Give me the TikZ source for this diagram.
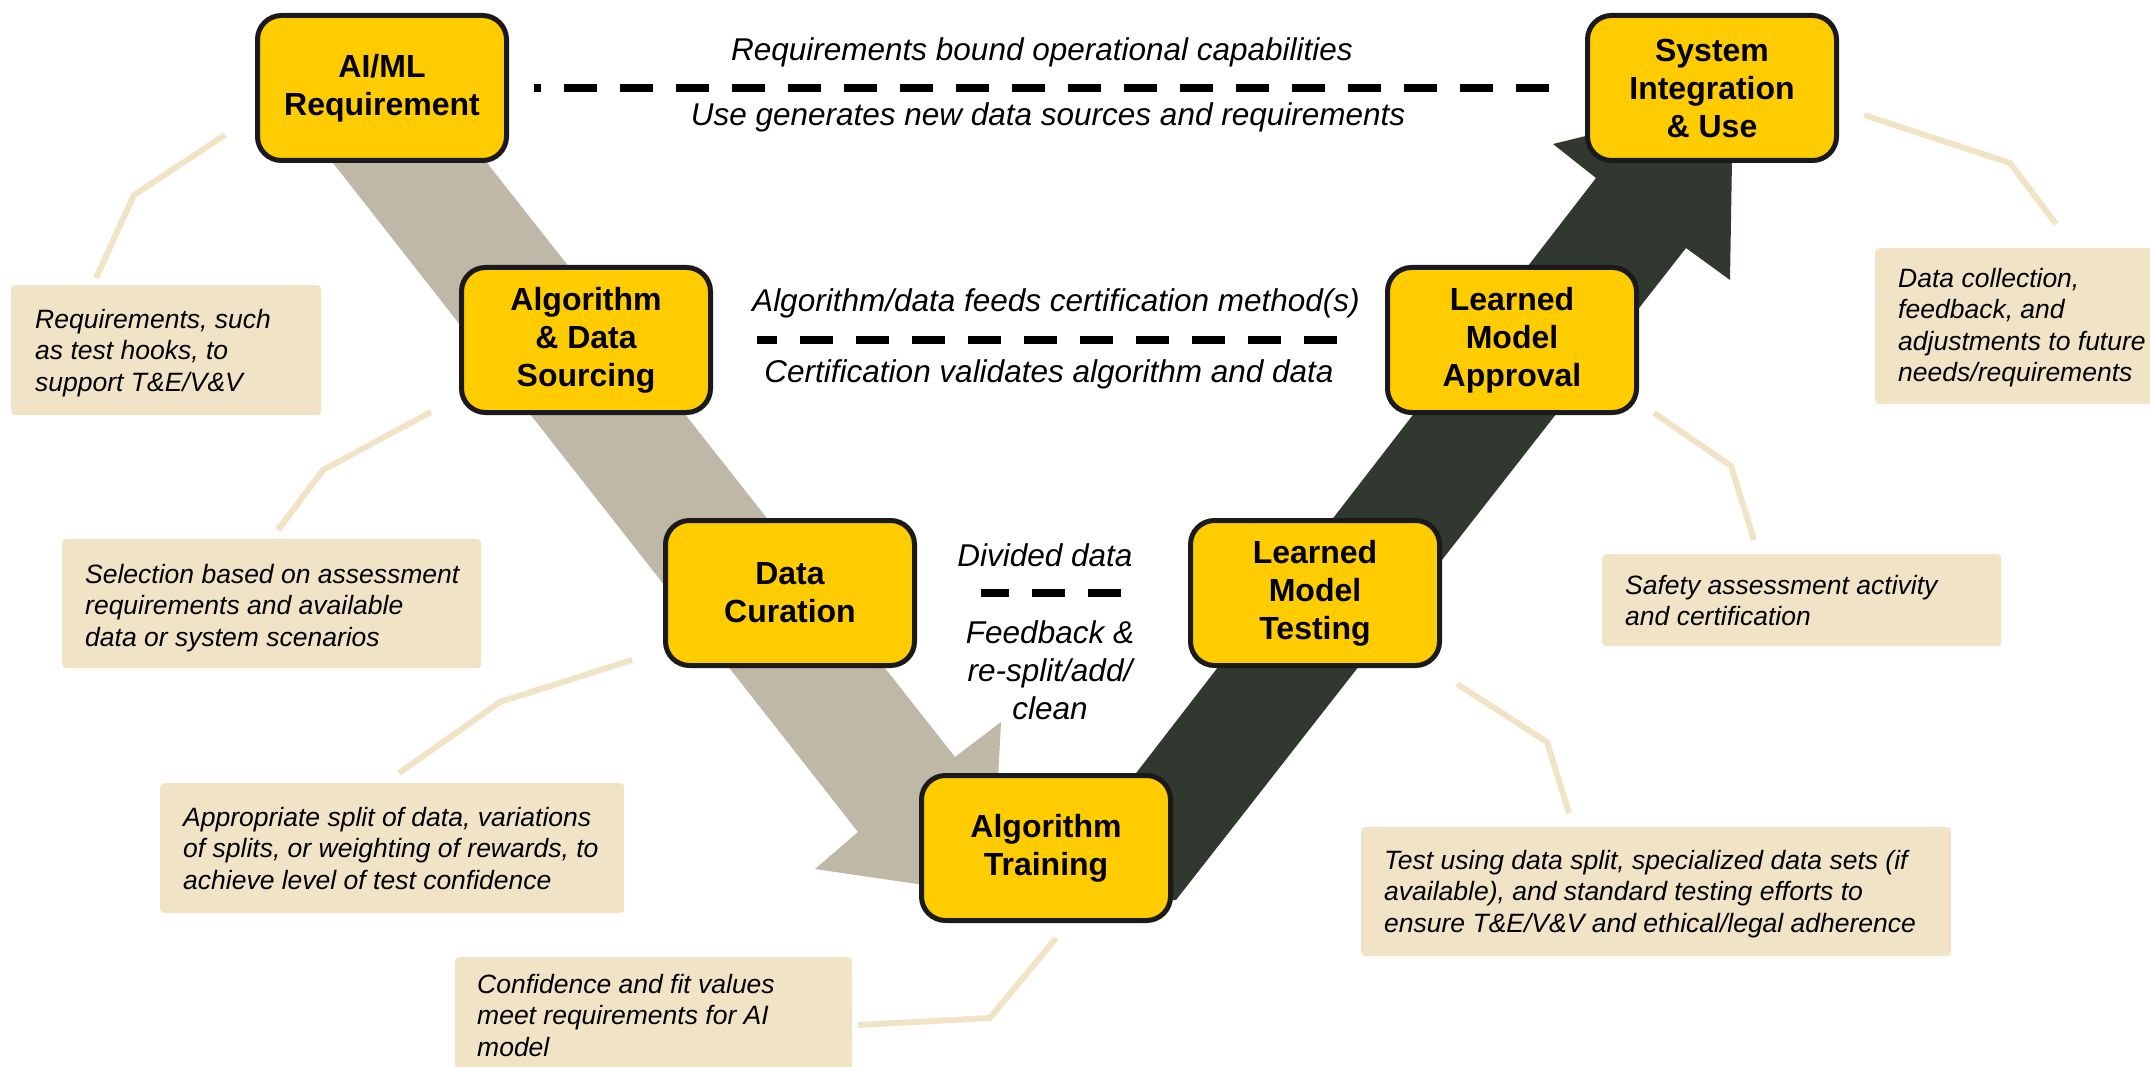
\documentclass[tikz,border=0pt]{standalone}
\usepackage{fontspec}
\setmainfont{Liberation Sans}
\definecolor{stageyellow}{HTML}{FFCC00}
\definecolor{stageline}{HTML}{1A1A1A}
\definecolor{notebeige}{HTML}{F1E3C6}
\definecolor{downband}{HTML}{BFB8A7}
\definecolor{upband}{HTML}{313830}
\tikzset{
  stage/.style={draw=stageline, line width=5pt, fill=stageyellow, rounded corners=24pt,
    minimum width=249pt, minimum height=145pt, inner sep=0pt, align=center,
    font=\bfseries\fontsize{32}{38}\selectfont},
  note/.style={fill=notebeige, rounded corners=4pt, inner sep=0pt, anchor=north west},
  notetext/.style={anchor=north west, inner sep=0pt, align=left,
    font=\itshape\fontsize{26.5}{31.5}\selectfont},
  flowlabel/.style={inner sep=0pt, align=center, font=\itshape\fontsize{31.5}{38}\selectfont},
  leader/.style={draw=notebeige, line width=6pt},
  linkdash/.style={draw=black, line width=8pt, dash pattern=on 33pt off 23pt},
}
\begin{document}
\begin{tikzpicture}[x=1pt,y=-1pt]
\useasboundingbox (0,0) rectangle (2150,1067);
\fill[white] (0,0) rectangle (2150,1067);

% descending band (left leg of the V)
\fill[downband] (315,140) -- (469,140) -- (955,757) -- (1001,722) -- (992,895)
  -- (815,869) -- (858,832) -- cycle;
% ascending band (right leg of the V)
\fill[upband] (1038,900) -- (1176,900) -- (1686,248) -- (1730,280) -- (1733,100)
  -- (1553,144) -- (1596,178) -- cycle;

% lifecycle stages
\node[stage] (aiml)  at (382,88)   {AI/ML\\Requirement};
\node[stage] (algo)  at (586,340)  {Algorithm\\\& Data\\Sourcing};
\node[stage] (cur)   at (790,593)  {Data\\Curation};
\node[stage] (train) at (1046,848) {Algorithm\\Training};
\node[stage] (test)  at (1315,593) {Learned\\Model\\Testing};
\node[stage] (appr)  at (1512,340) {Learned\\Model\\Approval};
\node[stage] (sys)   at (1712,88)  {System\\Integration\\\& Use};

% dashed links across the V
\draw[linkdash] ([xshift=-36pt]sys.west) -- ([xshift=24.5pt]aiml.east);
\draw[linkdash] ([xshift=-48.5pt]appr.west) -- ([xshift=43.5pt]algo.east);
\draw[linkdash] ([xshift=-67.5pt]test.west) -- ([xshift=63.5pt]cur.east);

% labels on the links
\node[flowlabel, anchor=base] (l1) at (1042,61)  {Requirements bound operational capabilities};
\node[flowlabel, anchor=base] (l2) at (1048,126) {Use generates new data sources and requirements};
\node[flowlabel, anchor=base] (l3) at (1056,312) {Algorithm/data feeds certification method(s)};
\node[flowlabel, anchor=base] (l4) at (1049,382) {Certification validates algorithm and data};
\node[flowlabel, anchor=base] (l5) at (1045,566) {Divided data};
\node[flowlabel] (l6) at (1050,670) {Feedback \&\\re-split/add/\\clean};

% notes
\node[note, minimum width=310pt, minimum height=130pt] (nA) at (11,285) {};
\node[note, minimum width=419pt, minimum height=129pt] (nB) at (62,539) {};
\node[note, minimum width=464pt, minimum height=130pt] (nC) at (160,783) {};
\node[note, minimum width=397pt, minimum height=120pt] (nD) at (455,957) {};
\node[note, minimum width=590pt, minimum height=129pt] (nE) at (1361,827) {};
\node[note, minimum width=399pt, minimum height=92pt]  (nF) at (1602,554) {};
\node[note, minimum width=285pt, minimum height=156pt] (nG) at (1875,248) {};

\node[notetext] (tA) at (35,309)   {Requirements, such\\as test hooks, to\\support T\&E/V\&V};
\node[notetext] (tB) at (85,564)   {Selection based on assessment\\requirements and available\\data or system scenarios};
\node[notetext] (tC) at (183,807)  {Appropriate split of data, variations\\of splits, or weighting of rewards, to\\achieve level of test confidence};
\node[notetext] (tD) at (477,974)  {Confidence and fit values\\meet requirements for AI\\model};
\node[notetext] (tE) at (1384,850) {Test using data split, specialized data sets (if\\available), and standard testing efforts to\\ensure T\&E/V\&V and ethical/legal adherence};
\node[notetext] (tF) at (1625,575) {Safety assessment activity\\and certification};
\node[notetext] (tG) at (1898,268) {Data collection,\\feedback, and\\adjustments to future\\needs/requirements};

% leader lines from stages to notes
\coordinate (a0) at (225,135);  \coordinate (a1) at (134,195);  \coordinate (a2) at (96,278);
\coordinate (b0) at (431,412);  \coordinate (b1) at (323,470);  \coordinate (b2) at (278,530);
\coordinate (c0) at (632,660);  \coordinate (c1) at (500,702);  \coordinate (c2) at (399,773);
\coordinate (d0) at (1056,938); \coordinate (d1) at (990,1018); \coordinate (d2) at (858,1025);
\coordinate (e0) at (1457,684); \coordinate (e1) at (1547,742); \coordinate (e2) at (1569,813);
\coordinate (f0) at (1654,413); \coordinate (f1) at (1731,466); \coordinate (f2) at (1754,540);
\coordinate (g0) at (1864,115); \coordinate (g1) at (2010,163); \coordinate (g2) at (2056,224);
\draw[leader] (a0) -- (a1) -- (a2);
\draw[leader] (b0) -- (b1) -- (b2);
\draw[leader] (c0) -- (c1) -- (c2);
\draw[leader] (d0) -- (d1) -- (d2);
\draw[leader] (e0) -- (e1) -- (e2);
\draw[leader] (f0) -- (f1) -- (f2);
\draw[leader] (g0) -- (g1) -- (g2);
\end{tikzpicture}
\end{document}
